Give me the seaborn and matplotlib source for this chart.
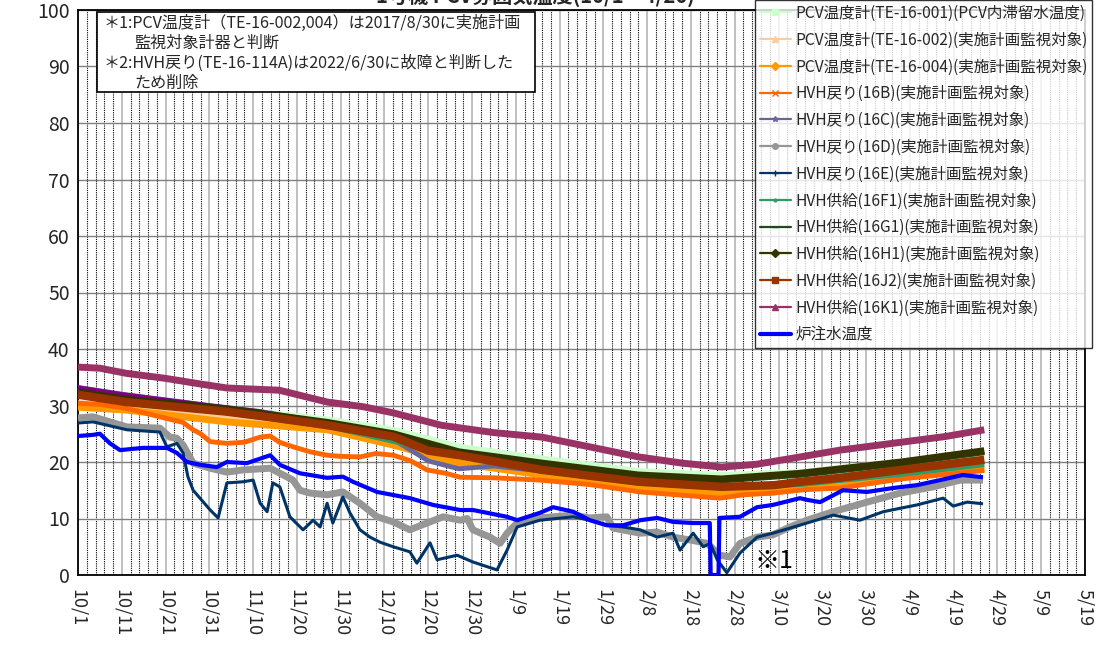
import numpy as np
import pandas as pd
import seaborn as sns
import matplotlib
matplotlib.use("Agg")
import matplotlib.pyplot as plt
from matplotlib.lines import Line2D
from matplotlib.patches import Rectangle

# ---------------- data (day index from 10/1) ----------------
tick_labels = ["10/1", "10/11", "10/21", "10/31", "11/10", "11/20", "11/30", "12/10",
               "12/20", "12/30", "1/9", "1/19", "1/29", "2/8", "2/18", "2/28", "3/10",
               "3/20", "3/30", "4/9", "4/19", "4/29", "5/9", "5/19"]

pcv001_days = [0, 11, 34, 57, 72, 87, 106, 128, 147, 165, 188, 207]
pcv001_vals = [32.2, 31.0, 29.3, 27.3, 25.5, 22.5, 20.4, 18.2, 17.5, 18.0, 19.8, 21.3]

pcv002_days = [0, 11, 34, 57, 72, 87, 106, 128, 147, 165, 188, 207]
pcv002_vals = [30.4, 29.8, 27.7, 26.2, 23.6, 20.4, 18.2, 16.1, 15.0, 15.9, 17.8, 19.3]

pcv004_days = [0, 11, 34, 57, 72, 87, 106, 128, 147, 159, 165, 174, 188, 207]
pcv004_vals = [29.7, 29.2, 27.1, 25.7, 23.0, 19.8, 17.7, 15.6, 14.5, 14.7, 15.4, 15.6, 17.3, 18.8]

hvh16b_days = [0, 5, 11, 18.7, 24, 26.3, 28, 30.2, 34, 38, 41.6, 43.9, 46, 49.1, 53, 56.9,
               60, 64.4, 68, 72, 76, 79.7, 84, 87.3, 95, 105.5, 117, 128.4, 140, 146.6,
               152, 158.7, 166, 174, 188, 207]
hvh16b_vals = [30.4, 30.2, 29.5, 28.0, 27.0, 25.7, 25.0, 23.6, 23.3, 23.5, 24.4, 24.6, 23.5,
               22.7, 21.8, 21.2, 21.0, 20.9, 21.5, 21.2, 20.2, 18.6, 18.0, 17.3, 17.2, 16.8,
               16.0, 14.7, 14.0, 13.6, 14.2, 14.5, 15.1, 15.4, 17.0, 18.5]

hvh16c_days = [0, 10, 20, 30, 42, 50, 60, 72, 80, 87, 95, 106, 128, 147, 165, 188, 207]
hvh16c_vals = [33.2, 32.0, 31.0, 30.0, 28.9, 27.8, 26.5, 24.0, 20.2, 18.8, 19.3, 18.4, 16.3,
               15.4, 16.3, 18.2, 20.0]

hvh16d_days = [0, 3.4, 11.2, 18.7, 21, 22.6, 24, 26.3, 30.2, 34, 37.7, 43.9, 49.1, 50.7, 53,
               56.9, 60.5, 64.4, 68.3, 72, 75.8, 79.7, 83.4, 87.3, 88.9, 90.2, 94.1, 96.4, 98,
               100.3, 105.5, 113.1, 116.9, 120.8, 122.2, 128.4, 132.3, 135.9, 139.8, 143.7,
               146.6, 148.9, 151.2, 155.1, 158.7, 162.6, 166.5, 172.5, 180.2, 187.8, 195.3,
               201.5, 206.7]
hvh16d_vals = [27.8, 28.0, 26.2, 26.0, 24.4, 24.2, 23.0, 19.8, 18.9, 18.2, 18.6, 18.9, 16.8,
               15.0, 14.5, 14.2, 14.7, 12.7, 10.3, 9.4, 8.0, 9.2, 10.3, 9.7, 10.0, 8.0, 6.7,
               5.6, 7.4, 9.2, 10.1, 10.6, 10.1, 10.3, 8.3, 7.4, 7.6, 6.7, 6.2, 5.6, 3.5, 3.2,
               5.6, 6.7, 7.1, 8.5, 9.7, 11.2, 12.9, 14.5, 15.6, 16.8, 16.8]

hvh16e_days = [0, 3.4, 11.2, 18.7, 20.3, 22.6, 24, 25.1, 26.3, 30.2, 32, 34, 37.7, 40, 41.6,
               43.2, 44.5, 46.1, 48.4, 51.4, 53.7, 55.3, 56.9, 58.2, 60.5, 62.1, 64.4, 66.7,
               69, 72, 75.8, 77.4, 80.4, 82, 86.6, 90.2, 95.7, 98, 100.3, 105.5, 113.1, 116.9,
               120.8, 124.5, 128.4, 132.3, 135.9, 137.5, 140.5, 142.8, 144.4, 146, 148.2,
               151.2, 155.1, 158.7, 166.5, 172.5, 178.6, 183.9, 191.6, 197.6, 199.9, 203.1,
               206.7]
hvh16e_vals = [26.9, 27.1, 25.7, 25.3, 22.7, 23.3, 21.6, 17.4, 15.0, 11.5, 10.1, 16.3, 16.5,
               16.8, 12.7, 11.2, 16.3, 15.6, 10.3, 8.0, 9.7, 8.5, 12.7, 9.2, 13.8, 11.0, 8.0,
               6.7, 5.8, 5.0, 4.1, 2.1, 5.7, 2.7, 3.5, 2.3, 0.9, 4.4, 8.5, 9.7, 10.3, 9.7, 8.8,
               8.5, 8.0, 6.7, 7.4, 4.4, 7.4, 5.0, 5.6, 2.7, 0.4, 3.9, 6.7, 7.4, 9.2, 10.6, 9.7,
               11.2, 12.4, 13.6, 12.2, 12.9, 12.6]

hvh16f1_days = [0, 34, 57, 87, 106, 128, 147, 165, 188, 207]
hvh16f1_vals = [31.7, 28.7, 26.3, 21.0, 18.4, 16.3, 15.4, 16.0, 17.8, 19.5]

hvh16g1_days = [0, 11, 34, 57, 72, 87, 106, 128, 147, 165, 188, 207]
hvh16g1_vals = [32.1, 30.8, 29.1, 26.7, 24.7, 21.5, 19.5, 17.4, 16.7, 17.7, 19.7, 21.7]

hvh16h1_days = [0, 11, 34, 57, 72, 87, 106, 128, 147, 165, 188, 207]
hvh16h1_vals = [32.4, 31.1, 29.4, 27.0, 25.0, 21.8, 19.8, 17.7, 17.0, 18.0, 20.0, 22.0]

hvh16j2_days = [0, 11, 34, 45, 57, 72, 80, 87, 106, 128, 147, 159, 165, 174, 188, 207]
hvh16j2_vals = [31.9, 30.6, 28.9, 27.8, 26.5, 24.5, 22.0, 21.2, 18.6, 16.5, 15.6, 15.9, 16.5,
                17.2, 18.6, 20.4]

hvh16k1_days = [0, 5, 11, 20, 28, 34, 46, 57, 65, 72, 83, 95, 106, 118, 128, 138, 147, 155,
                165, 174, 188, 198, 207]
hvh16k1_vals = [36.8, 36.6, 35.7, 34.8, 33.8, 33.1, 32.7, 30.6, 29.8, 28.7, 26.5, 25.2, 24.4,
                22.5, 20.9, 19.8, 19.1, 19.6, 20.9, 22.1, 23.5, 24.5, 25.7]

inj_days = [0, 3.4, 5, 7.3, 9.6, 14.8, 20.3, 22.6, 24.9, 27.9, 31.7, 34, 38.6, 43.9, 46.1,
            50.7, 56.9, 60.5, 62.8, 68.3, 75.8, 81.1, 87.3, 90.2, 98, 100.3, 105.5, 108.5,
            113.1, 116.9, 120.8, 124.5, 128.4, 132.3, 135.9, 140.5, 144.3, 144.5, 146.3,
            146.5, 151.2, 155.1, 158.7, 164.9, 166.5, 169.5, 174.7, 180.2, 186.2, 191.6,
            196.9, 202.1, 206.7]
inj_vals = [24.6, 24.8, 25.0, 23.3, 22.1, 22.5, 22.5, 21.6, 20.0, 19.5, 19.1, 20.0, 19.8,
            21.2, 19.5, 18.0, 17.2, 17.4, 16.5, 14.7, 13.6, 12.4, 11.5, 11.5, 10.3, 9.7, 11.0,
            12.0, 11.2, 9.7, 8.8, 8.8, 9.7, 10.1, 9.4, 9.2, 9.2, 0.0, 0.0, 10.1, 10.3, 12.0,
            12.4, 13.6, 13.3, 12.9, 15.0, 14.7, 15.4, 15.9, 16.8, 17.7, 17.3]

series_labels = ["PCV温度計(TE-16-001)(PCV内滞留水温度)",
                 "PCV温度計(TE-16-002)(実施計画監視対象)",
                 "PCV温度計(TE-16-004)(実施計画監視対象)",
                 "HVH戻り(16B)(実施計画監視対象)",
                 "HVH戻り(16C)(実施計画監視対象)",
                 "HVH戻り(16D)(実施計画監視対象)",
                 "HVH戻り(16E)(実施計画監視対象)",
                 "HVH供給(16F1)(実施計画監視対象)",
                 "HVH供給(16G1)(実施計画監視対象)",
                 "HVH供給(16H1)(実施計画監視対象)",
                 "HVH供給(16J2)(実施計画監視対象)",
                 "HVH供給(16K1)(実施計画監視対象)",
                 "炉注水温度"]

note_lines = ["＊1:PCV温度計（TE-16-002,004）は2017/8/30に実施計画",
              "監視対象計器と判断",
              "＊2:HVH戻り(TE-16-114A)は2022/6/30に故障と判断した",
              "ため削除"]
title_text = "1号機 PCV雰囲気温度(10/1～4/26)"

# ---------------- styling ----------------
sns.set_theme(style="white")
plt.rcParams['font.family'] = ['Noto Sans CJK JP', 'DejaVu Sans']

W, H = 1100, 645
fig = plt.figure(figsize=(11.0, 6.45), dpi=100)
fig.patch.set_facecolor("white")
ax = fig.add_axes([78 / W, (H - 575) / H, (1085 - 78) / W, (575 - 10) / H])

styles = [
    # data days, vals, color, lw, marker
    (pcv001_days, pcv001_vals, "#ccffcc", 6.0, "s"),
    (pcv002_days, pcv002_vals, "#ffcc99", 4.5, "^"),
    (pcv004_days, pcv004_vals, "#ff9900", 5.0, "D"),
    (hvh16b_days, hvh16b_vals, "#ff6600", 3.5, "x"),
    (hvh16c_days, hvh16c_vals, "#666699", 3.5, "*"),
    (hvh16d_days, hvh16d_vals, "#969696", 5.0, "o"),
    (hvh16e_days, hvh16e_vals, "#003366", 2.2, "+"),
    (hvh16f1_days, hvh16f1_vals, "#339966", 3.5, "."),
    (hvh16g1_days, hvh16g1_vals, "#1e4a1e", 4.0, "_"),
    (hvh16h1_days, hvh16h1_vals, "#333300", 5.0, "D"),
    (hvh16j2_days, hvh16j2_vals, "#993300", 6.0, "s"),
    (hvh16k1_days, hvh16k1_vals, "#993366", 5.0, "^"),
    (inj_days, inj_vals, "#0000ff", 3.0, None),
]

for i, (d, v, c, lw, m) in enumerate(styles):
    sns.lineplot(x=d, y=v, ax=ax, color=c, lw=lw, legend=False, zorder=3 + i * 0.1,
                 sort=False, solid_capstyle="butt")
    if i == 4:
        # early part of 16C drawn in purple as in the reference
        sns.lineplot(x=d[:5], y=v[:5], ax=ax, color="#800080", lw=3.0, legend=False,
                     zorder=3 + i * 0.1 + 0.05, sort=False)

ax.set_xlim(0, 230)
ax.set_ylim(0, 100)
ax.set_xticks(np.arange(0, 231, 10))
ax.set_xticklabels(tick_labels, rotation=270, fontsize=13, ha="center", va="top")
ax.set_xticks([d for d in range(0, 231, 2) if d % 10 != 0], minor=True)
ax.set_yticks(np.arange(0, 101, 10))
ax.set_yticklabels([str(t) for t in range(0, 101, 10)], fontsize=14)
ax.tick_params(axis="both", which="both", length=0)
ax.tick_params(axis="x", pad=10)
ax.tick_params(axis="y", pad=6)
ax.grid(which="major", axis="x", color="#c0c0c0", lw=1.4, zorder=1)
ax.grid(which="minor", axis="x", color="#000000", lw=0.8, ls=(0, (1, 1)), zorder=1)
ax.grid(which="major", axis="y", color="#808080", lw=1.0, zorder=1)
ax.set_axisbelow(True)
for s in ax.spines.values():
    s.set_visible(True)
    s.set_color("black")
    s.set_linewidth(1.3)
ax.set_xlabel("")
ax.set_ylabel("")

# ※1 mark
ax.text(154.6, 2.4, "※1", fontsize=18, va="center", ha="left", color="black", zorder=10)

# note box
fig.add_artist(Rectangle((97 / W, (H - 92) / H), (535 - 97) / W, (92 - 12) / H,
                         transform=fig.transFigure, facecolor="white", edgecolor="black",
                         lw=1.2, zorder=5))
note_pos = [(104, 23), (134, 43), (104, 63), (134, 83)]
for (px, py), t in zip(note_pos, note_lines):
    fig.text(px / W, 1 - py / H, t, fontsize=11.6, va="center", ha="left", zorder=6)

# title (mostly clipped at top, as in reference)
fig.text(535 / W, 1 - 3 / H, title_text, fontsize=14.5, fontweight="bold",
         ha="center", va="baseline")

# legend
handles = []
for (d, v, c, lw, m) in styles:
    if m is None:
        handles.append(Line2D([], [], color=c, lw=3.0))
    else:
        handles.append(Line2D([], [], color=c, lw=1.6, marker=m, markersize=4,
                              markeredgecolor=c, markerfacecolor=c))
leg = fig.legend(handles, series_labels, loc="lower left",
                 bbox_to_anchor=(755 / W, (H - 348) / H), bbox_transform=fig.transFigure,
                 fontsize=11.2, frameon=True, fancybox=False, borderaxespad=0,
                 handlelength=2.0, handletextpad=0.3, labelspacing=0.63, borderpad=0.3)
leg.get_frame().set_edgecolor("black")
leg.get_frame().set_linewidth(1.0)
leg.set_zorder(7)

fig.savefig("out.png", dpi=100, facecolor="white")
